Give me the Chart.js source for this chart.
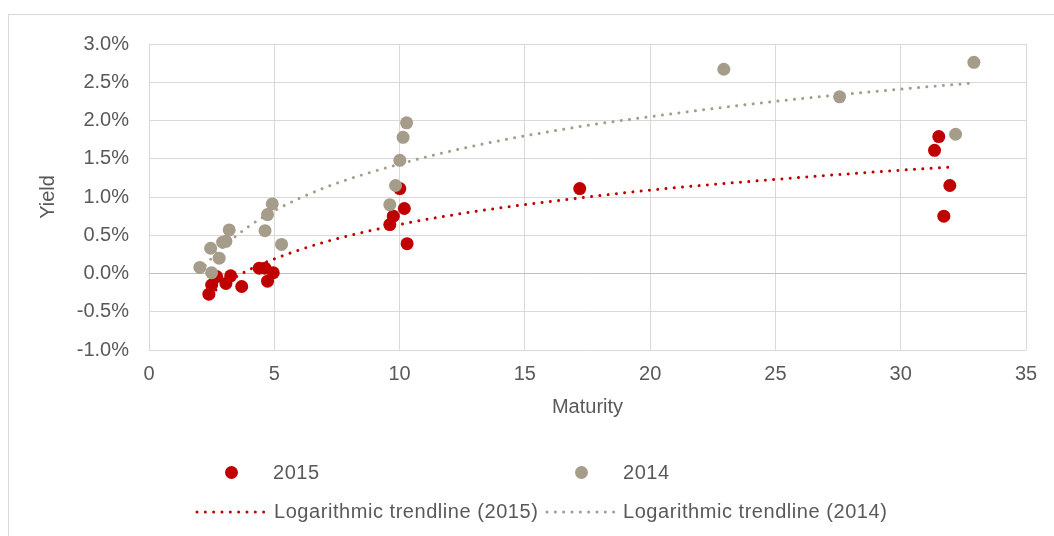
<!DOCTYPE html>
<html>
<head>
<meta charset="utf-8">
<script src="https://cdn.jsdelivr.net/npm/chart.js@4"></script>
<style>
  html, body { margin: 0; padding: 0; background: #fff; }
  body { width: 1054px; height: 536px; position: relative; overflow: hidden; font-family: "Liberation Sans", Arial, sans-serif; }
  #frame { position: absolute; left: 8px; top: 14px; width: 1100px; height: 600px; border: 1px solid #d9d9d9; box-sizing: border-box; }
  #wrap { position: absolute; left: 0; top: 0; width: 1054px; height: 536px; }
  .lg { position: absolute; font-size: 20px; line-height: 24px; color: #595959; white-space: nowrap; letter-spacing: 0.55px; }
  .dot { position: absolute; width: 13px; height: 13px; border-radius: 50%; }
  svg.dl { position: absolute; }
</style>
</head>
<body>
<div id="frame"></div>
<div id="wrap"><canvas id="c" width="1054" height="536"></canvas></div>

<div class="dot" style="left:225px;top:466px;background:#C00000"></div>
<div class="lg" style="left:273px;top:460px">2015</div>
<div class="dot" style="left:575px;top:466px;background:#A59C89"></div>
<div class="lg" style="left:623px;top:460px">2014</div>
<svg class="dl" style="left:195px;top:509px" width="76" height="6"><line x1="2" y1="3" x2="74" y2="3" stroke="#C00000" stroke-width="3" stroke-linecap="round" stroke-dasharray="0 8.33"/></svg>
<div class="lg" style="left:274px;top:499px">Logarithmic trendline (2015)</div>
<svg class="dl" style="left:545px;top:509px" width="76" height="6"><line x1="2" y1="3" x2="74" y2="3" stroke="#A59C89" stroke-width="3" stroke-linecap="round" stroke-dasharray="0 8.33"/></svg>
<div class="lg" style="left:623px;top:499px">Logarithmic trendline (2014)</div>

<script>
// 2015 yields (maturity in years, yield in %)
const maturity2015 = [2.39, 2.5, 2.7, 3.07, 3.26, 3.7, 4.4, 4.63, 4.73, 4.96, 9.61, 9.75, 10.01, 10.19, 10.3, 17.19, 31.35, 31.52, 31.72, 31.96];
const yield2015 = [-0.27, -0.15, -0.04, -0.13, -0.03, -0.17, 0.07, 0.07, -0.1, 0.01, 0.64, 0.75, 1.11, 0.85, 0.39, 1.11, 1.61, 1.79, 0.75, 1.15];

// 2014 yields
const maturity2014 = [2.03, 2.46, 2.5, 2.8, 2.94, 3.07, 3.2, 4.63, 4.73, 4.92, 5.29, 9.61, 9.84, 10.01, 10.14, 10.28, 22.94, 27.56, 32.19, 32.92];
const yield2014 = [0.08, 0.33, 0.01, 0.2, 0.41, 0.42, 0.57, 0.56, 0.77, 0.91, 0.38, 0.9, 1.15, 1.48, 1.78, 1.97, 2.67, 2.31, 1.82, 2.76];

// trendlines
const trend2015X = [2.4, 3, 4, 5, 7, 10, 13, 17, 20, 25, 30, 32];
const trend2015Y = [-0.28, -0.14, 0.05, 0.19, 0.41, 0.64, 0.81, 0.98, 1.09, 1.23, 1.35, 1.39];
const trend2014X = [2.03, 2.5, 3, 4, 5, 7, 10, 13, 17, 20, 25, 30, 32.9];
const trend2014Y = [0.02, 0.2, 0.36, 0.62, 0.82, 1.12, 1.43, 1.67, 1.91, 2.05, 2.25, 2.41, 2.49];

const yTicks = [-1, -0.5, 0, 0.5, 1, 1.5, 2, 2.5, 3];

const RED = '#C00000';
const TAN = '#A59C89';
const TXT = '#595959';
const FONT = '"Liberation Sans", Arial, sans-serif';

const pts = (xs, ys) => xs.map((x, i) => ({ x, y: ys[i] }));

new Chart(document.getElementById('c'), {
  type: 'scatter',
  data: {
    datasets: [
      { label: '2015', data: pts(maturity2015, yield2015), backgroundColor: RED, borderWidth: 0, pointRadius: 6.5, order: 4 },
      { label: '2014', data: pts(maturity2014, yield2014), backgroundColor: TAN, borderWidth: 0, pointRadius: 6.5, order: 3 },
      { label: 'Logarithmic trendline (2015)', data: pts(trend2015X, trend2015Y), showLine: true, pointRadius: 0,
        borderColor: RED, borderWidth: 3, borderDash: [0.01, 8.3], borderCapStyle: 'round', cubicInterpolationMode: 'monotone', order: 2 },
      { label: 'Logarithmic trendline (2014)', data: pts(trend2014X, trend2014Y), showLine: true, pointRadius: 0,
        borderColor: TAN, borderWidth: 3, borderDash: [0.01, 8.3], borderCapStyle: 'round', cubicInterpolationMode: 'monotone', order: 1 },
    ],
  },
  options: {
    responsive: false,
    animation: false,
    layout: { padding: { left: 0, top: 44, right: 28, bottom: 111 } },
    plugins: { legend: { display: false }, tooltip: { enabled: false } },
    scales: {
      x: {
        type: 'linear', min: 0, max: 35,
        ticks: { stepSize: 5, color: TXT, font: { family: FONT, size: 20 }, padding: 12 },
        grid: { color: '#d9d9d9', lineWidth: 1, drawTicks: false },
        border: { display: false },
        title: { display: true, text: 'Maturity', color: TXT, font: { family: FONT, size: 20 }, padding: { top: 0, bottom: 6 } },
        afterFit: (s) => { s.height = 75; },
      },
      y: {
        type: 'linear', min: -1, max: 3,
        afterBuildTicks: (s) => { s.ticks = yTicks.map((v) => ({ value: v })); },
        ticks: { color: TXT, font: { family: FONT, size: 20 }, padding: 20, callback: (v) => v.toFixed(1) + '%' },
        grid: { color: (c) => (c.tick && c.tick.value === 0 ? '#bfbfbf' : '#d9d9d9'), lineWidth: 1, drawTicks: false },
        border: { display: false },
        title: { display: true, text: 'Yield', color: TXT, font: { family: FONT, size: 20 }, padding: { top: 36, bottom: 0 } },
        afterFit: (s) => { s.width = 149; },
      },
    },
  },
});
</script>
</body>
</html>
